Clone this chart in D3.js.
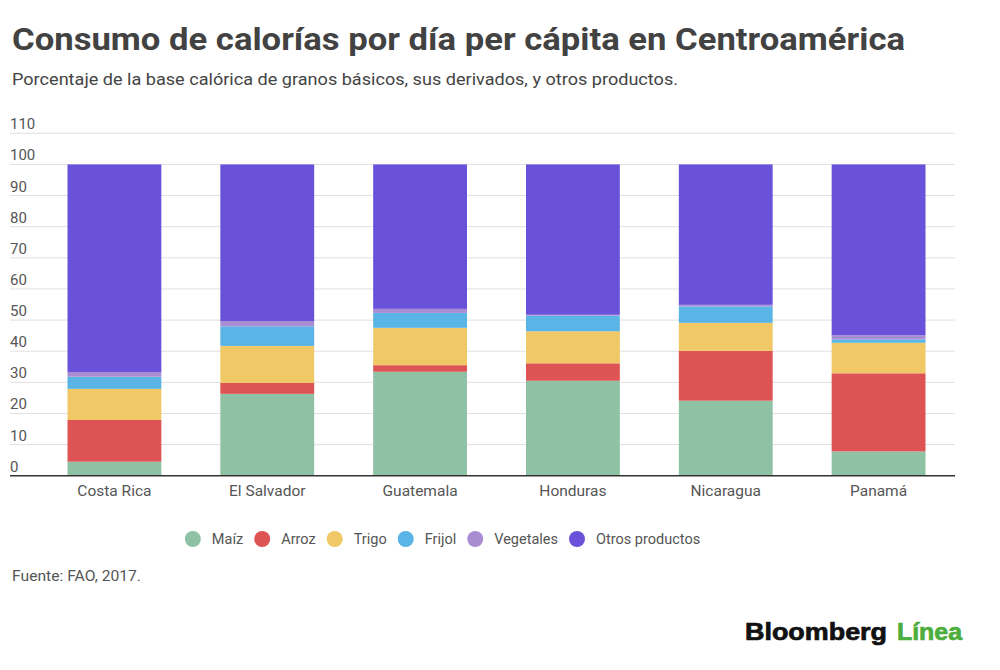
<!DOCTYPE html>
<meta charset="utf-8">
<html>
<head>
  <title>Consumo de calorías por día per cápita</title>
  <style>
    body { margin: 0; background: #fff; }
    svg { width: 1000px; height: 670px; display: block; }
    text { font-family: Roboto, 'Noto Sans', sans-serif; }
    .title { font-size: 31px; font-weight: 700; fill: #424242; }
    .subtitle { font-size: 17px; fill: #444; }
    .tick-label { font-size: 15px; fill: #555; }
    .cat-label { font-size: 15.5px; fill: #555; }
    .legend-label { font-size: 14.5px; fill: #555; }
    .source { font-size: 14.5px; fill: #555; }
    .grid line { stroke: #e0e0e0; stroke-width: 1px; }
    .logo { font-family: 'Liberation Sans', Arial, sans-serif; font-weight: 700; font-size: 23px; stroke-width: 0.7px; }
  </style>
  <script src="https://d3js.org/d3.v7.min.js"></script>
</head>
<body>
  <svg></svg>

  <script>
    // data (percent of daily calories)
    var countries = ["Costa Rica", "El Salvador", "Guatemala", "Honduras", "Nicaragua", "Panamá"];
    var maiz      = [4.5, 26.3, 33.4, 30.5, 24.1, 7.8];
    var arroz     = [13.4, 3.5, 2.1, 5.6, 16.0, 25.1];
    var trigo     = [10.0, 11.9, 12.0, 10.3, 9.0, 9.8];
    var frijol    = [3.9, 6.3, 4.8, 5.0, 5.3, 1.1];
    var vegetales = [1.5, 1.7, 1.3, 0.3, 0.5, 1.3];
    var otros     = [66.7, 50.3, 46.4, 48.3, 45.1, 54.9];

    var seriesNames = ["Maíz", "Arroz", "Trigo", "Frijol", "Vegetales", "Otros productos"];
    var seriesValues = [maiz, arroz, trigo, frijol, vegetales, otros];
    var yTicks = [0, 10, 20, 30, 40, 50, 60, 70, 80, 90, 100, 110];

    var colors = ["#8fc1a4", "#de5353", "#f0c865", "#5ab4e5", "#a98dd2", "#6a51d9"];

    var svg = d3.select("svg");

    // one row per country, one column per series
    var rows = countries.map(function(c, i) {
      var r = { country: c };
      seriesNames.forEach(function(s, j) { r[s] = seriesValues[j][i]; });
      return r;
    });

    var stacked = d3.stack().keys(seriesNames)(rows);

    var gridLeft = 10, gridRight = 955;

    var x = d3.scaleBand()
      .domain(countries)
      .range([38, 955])
      .paddingInner(0.386)
      .paddingOuter(0.193);

    var y = d3.scaleLinear()
      .domain([0, 110])
      .range([475.7, 133.3]);

    var z = d3.scaleOrdinal().domain(seriesNames).range(colors);

    // title and subtitle (the reference type runs a little wide)
    svg.append("text").attr("class", "title")
      .attr("x", 12).attr("y", 50)
      .attr("textLength", 893).attr("lengthAdjust", "spacingAndGlyphs")
      .text("Consumo de calorías por día per cápita en Centroamérica");
    svg.append("text").attr("class", "subtitle")
      .attr("x", 12).attr("y", 85)
      .attr("textLength", 666).attr("lengthAdjust", "spacingAndGlyphs")
      .text("Porcentaje de la base calórica de granos básicos, sus derivados, y otros productos.");

    // gridlines
    var grid = svg.append("g").attr("class", "grid");
    grid.selectAll("line")
      .data(yTicks.filter(function(t) { return t > 0; }))
      .enter().append("line")
        .attr("x1", gridLeft).attr("x2", gridRight)
        .attr("y1", function(d) { return y(d); })
        .attr("y2", function(d) { return y(d); });

    // tick labels sit just above each gridline
    svg.append("g").selectAll("text")
      .data(yTicks)
      .enter().append("text")
        .attr("class", "tick-label")
        .attr("x", gridLeft)
        .attr("y", function(d) { return y(d) - 4; })
        .text(function(d) { return d; });

    // stacked bars
    svg.append("g").selectAll("g")
      .data(stacked)
      .enter().append("g")
        .attr("fill", function(d) { return z(d.key); })
      .selectAll("rect")
      .data(function(d) { return d; })
      .enter().append("rect")
        .attr("x", function(d) { return x(d.data.country); })
        .attr("y", function(d) { return y(d[1]); })
        .attr("height", function(d) { return y(d[0]) - y(d[1]); })
        .attr("width", x.bandwidth());

    // baseline
    svg.append("line")
      .attr("x1", gridLeft).attr("x2", gridRight)
      .attr("y1", y(0)).attr("y2", y(0))
      .attr("stroke", "#333").attr("stroke-width", 1.5);

    // category labels
    svg.append("g").selectAll("text")
      .data(countries)
      .enter().append("text")
        .attr("class", "cat-label")
        .attr("text-anchor", "middle")
        .attr("x", function(d) { return x(d) + x.bandwidth() / 2; })
        .attr("y", 496)
        .text(function(d) { return d; });

    // legend, centered under the plot
    var legend = svg.append("g");
    var lx = 0;
    seriesNames.forEach(function(s) {
      var item = legend.append("g").attr("transform", "translate(" + lx + ",0)");
      item.append("circle").attr("cx", 8).attr("cy", 0).attr("r", 8).attr("fill", z(s));
      var t = item.append("text").attr("class", "legend-label")
        .attr("x", 27).attr("y", 5).text(s);
      lx += 27 + t.node().getComputedTextLength() + 11;
    });
    var legendWidth = lx - 11;
    legend.attr("transform", "translate(" + (442.5 - legendWidth / 2) + ",539)");

    // source
    svg.append("text").attr("class", "source")
      .attr("x", 12).attr("y", 581)
      .attr("textLength", 129).attr("lengthAdjust", "spacingAndGlyphs")
      .text("Fuente: FAO, 2017.");

    // logo
    svg.append("text").attr("class", "logo")
      .attr("x", 745).attr("y", 640)
      .attr("fill", "#111").attr("stroke", "#111")
      .attr("textLength", 142).attr("lengthAdjust", "spacingAndGlyphs")
      .text("Bloomberg");
    svg.append("text").attr("class", "logo")
      .attr("x", 897).attr("y", 640)
      .attr("fill", "#4cae3c").attr("stroke", "#4cae3c")
      .attr("textLength", 65).attr("lengthAdjust", "spacingAndGlyphs")
      .text("Línea");
  </script>
</body>
</html>
